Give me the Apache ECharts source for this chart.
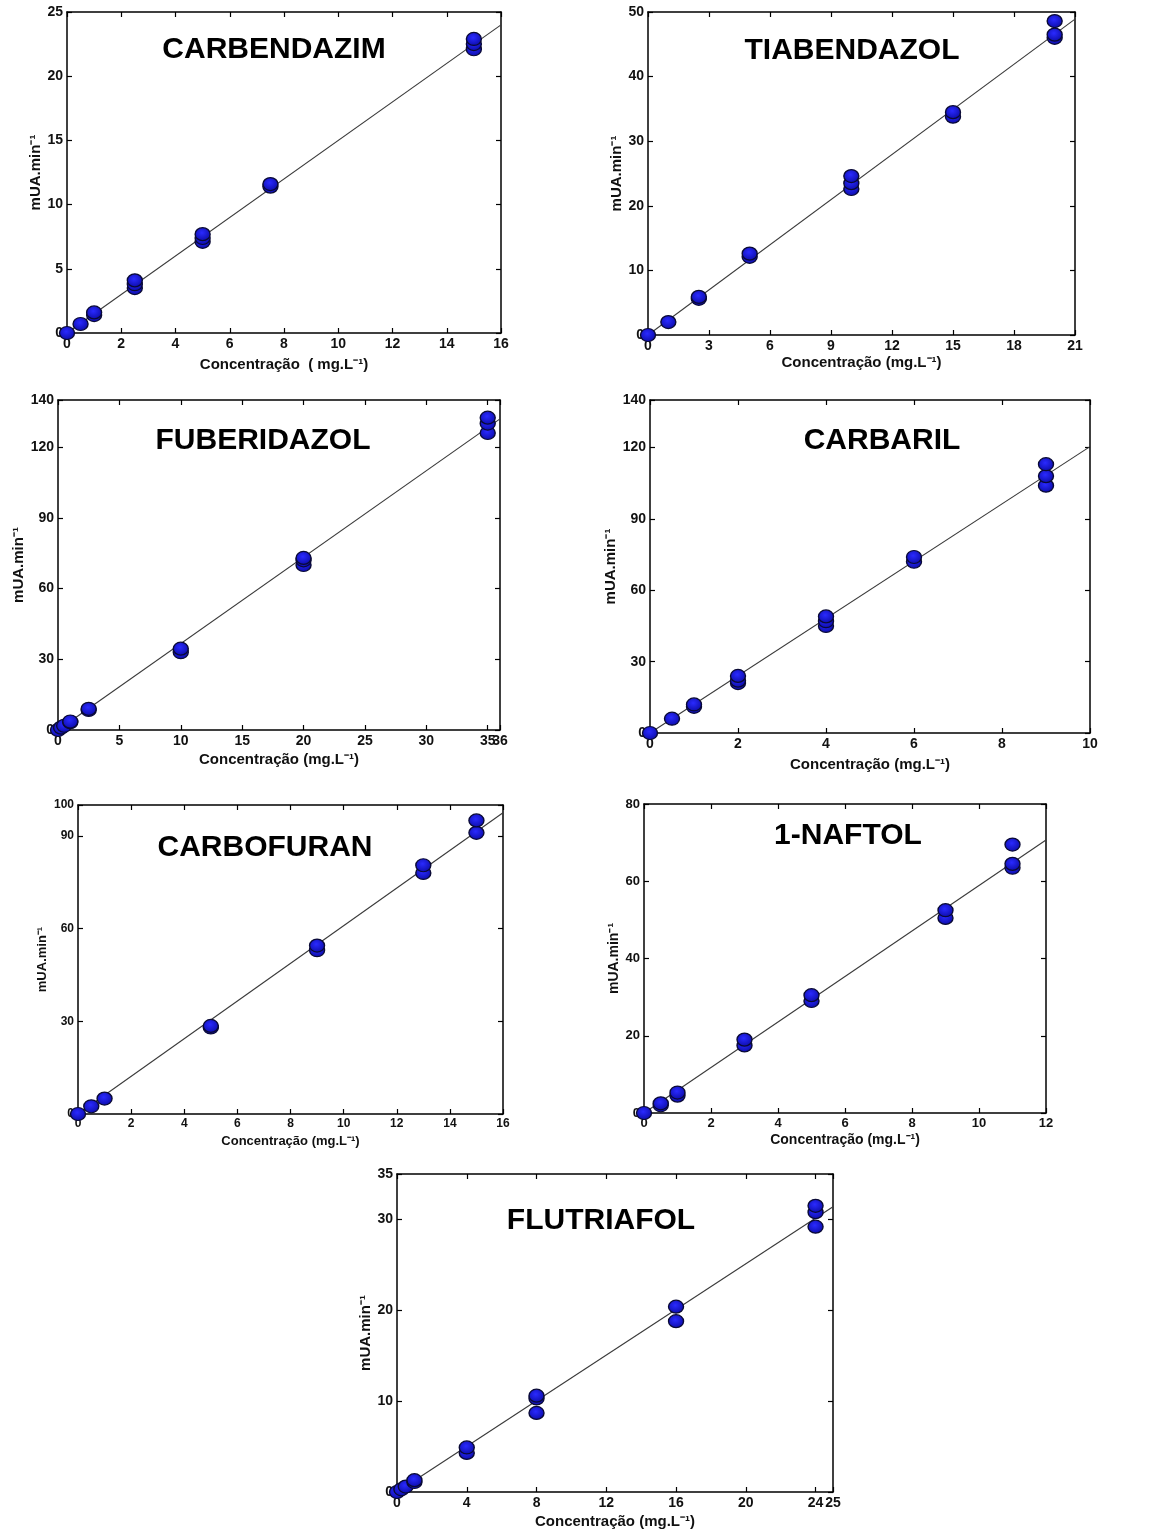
<!DOCTYPE html>
<html>
<head>
<meta charset="utf-8">
<script src="https://cdn.jsdelivr.net/npm/echarts@6/dist/echarts.min.js"></script>
<style>
  html, body { margin: 0; padding: 0; background: #fff; }
  #chart { width: 1151px; height: 1531px; }
</style>
</head>
<body>
<div id="chart"></div>
<script>
// concentração (mg/L) e área (mUA.min)
const carbendazimX = [0, 0.5, 1, 1, 2.5, 2.5, 2.5, 5, 5, 5, 7.5, 7.5, 15, 15, 15]
const carbendazimY = [0, 0.7, 1.4, 1.6, 3.5, 3.8, 4.1, 7.1, 7.4, 7.7, 11.4, 11.6, 22.1, 22.5, 22.9]
const carbendazimFit = [[0, 0], [16, 24]]

const tiabendazolX = [0, 1, 2.5, 2.5, 5, 5, 10, 10, 10, 15, 15, 20, 20, 20]
const tiabendazolY = [0, 2.0, 5.6, 5.9, 12.1, 12.6, 22.6, 23.5, 24.6, 33.8, 34.5, 46.0, 46.5, 48.6]
const tiabendazolFit = [[0, 0], [21, 48.9]]

const fuberidazolX = [0, 0.25, 0.5, 1, 1, 2.5, 2.5, 10, 10, 20, 20, 20, 35, 35, 35]
const fuberidazolY = [0, 1, 1.8, 3.3, 3.6, 8.5, 9, 33, 34.5, 70, 72, 73, 126, 130, 132.5]
const fuberidazolFit = [[0, 0], [36, 132]]

const carbarilX = [0, 0.5, 1, 1, 2, 2, 2, 4, 4, 4, 6, 6, 9, 9, 9]
const carbarilY = [0, 6, 11, 12, 21, 22, 24, 45, 47, 49, 72, 74, 104, 108, 113]
const carbarilFit = [[0, 0], [10, 120.4]]

const carbofuranX = [0, 0.5, 1, 5, 5, 9, 9, 13, 13, 15, 15]
const carbofuranY = [0, 2.5, 5, 28, 28.5, 53, 54.5, 78, 80.5, 91, 95]
const carbofuranFit = [[0, 0], [16, 97.5]]

const naftolX = [0, 0.5, 0.5, 1, 1, 3, 3, 5, 5, 9, 9, 11, 11, 11]
const naftolY = [0, 2.0, 2.5, 4.5, 5.3, 17.5, 19, 29, 30.5, 50.5, 52.5, 63.5, 64.5, 69.5]
const naftolFit = [[0, 0], [12, 70.7]]

const flutriafolX = [0, 0.25, 0.5, 1, 1, 4, 4, 8, 8, 8, 16, 16, 24, 24, 24]
const flutriafolY = [0, 0.3, 0.6, 1.1, 1.3, 4.3, 4.9, 8.7, 10.3, 10.6, 18.8, 20.4, 29.2, 30.8, 31.5]
const flutriafolFit = [[0, 0], [25, 31.4]]

const panels = [
  { name: 'CARBENDAZIM', xs: carbendazimX, ys: carbendazimY, fit: carbendazimFit,
    xMax: 16, xStep: 2, yMax: 25, yStep: 5, xName: 'Concentração  ( mg.L⁻¹)',
    grid: { left: 67, top: 12, width: 434, height: 321 }, title: [274, 49],
    font: 14, nameFont: 15, xGap: 24, yGap: 23 },
  { name: 'TIABENDAZOL', xs: tiabendazolX, ys: tiabendazolY, fit: tiabendazolFit,
    xMax: 21, xStep: 3, yMax: 50, yStep: 10, xName: 'Concentração (mg.L⁻¹)',
    grid: { left: 648, top: 12, width: 427, height: 323 }, title: [852, 50],
    font: 14, nameFont: 15, xGap: 20, yGap: 24 },
  { name: 'FUBERIDAZOL', xs: fuberidazolX, ys: fuberidazolY, fit: fuberidazolFit,
    xMax: 36, xStep: 5, yMax: 140, yStep: 30, xName: 'Concentração (mg.L⁻¹)',
    grid: { left: 58, top: 400, width: 442, height: 330 }, title: [263, 440],
    font: 14, nameFont: 15, xGap: 22, yGap: 29, crowdedMax: true },
  { name: 'CARBARIL', xs: carbarilX, ys: carbarilY, fit: carbarilFit,
    xMax: 10, xStep: 2, yMax: 140, yStep: 30, xName: 'Concentração (mg.L⁻¹)',
    grid: { left: 650, top: 400, width: 440, height: 333 }, title: [882, 440],
    font: 14, nameFont: 15, xGap: 24, yGap: 30 },
  { name: 'CARBOFURAN', xs: carbofuranX, ys: carbofuranY, fit: carbofuranFit,
    xMax: 16, xStep: 2, yMax: 100, yStep: 30, xName: 'Concentração (mg.L⁻¹)',
    grid: { left: 78, top: 805, width: 425, height: 309 }, title: [265, 847],
    font: 12, nameFont: 13, xGap: 21, yGap: 29 },
  { name: '1-NAFTOL', xs: naftolX, ys: naftolY, fit: naftolFit,
    xMax: 12, xStep: 2, yMax: 80, yStep: 20, xName: 'Concentração (mg.L⁻¹)',
    grid: { left: 644, top: 804, width: 402, height: 309 }, title: [848, 835],
    font: 13, nameFont: 14, xGap: 20, yGap: 16 },
  { name: 'FLUTRIAFOL', xs: flutriafolX, ys: flutriafolY, fit: flutriafolFit,
    xMax: 25, xStep: 4, yMax: 35, yStep: 10, xName: 'Concentração (mg.L⁻¹)',
    grid: { left: 397, top: 1174, width: 436, height: 318 }, title: [601, 1220],
    font: 14, nameFont: 15, xGap: 22, yGap: 23 }
]

const fontFamily = 'Liberation Sans, Arial, sans-serif'
const axisLine = { show: true, onZero: false, lineStyle: { color: '#000', width: 1.5 } }
const tick = { show: true, inside: true, length: 5, lineStyle: { color: '#000', width: 1.2 } }
const markerFill = {
  type: 'radial', x: 0.45, y: 0.4, r: 0.6,
  colorStops: [{ offset: 0, color: '#2a2aff' }, { offset: 1, color: '#0c0ca8' }]
}

const grids = []
const xAxes = []
const yAxes = []
const series = []
const titles = []

panels.forEach((p, i) => {
  grids.push(p.grid)
  titles.push({
    text: p.name,
    left: p.title[0],
    top: p.title[1] - 14,
    padding: 0,
    textAlign: 'center',
    textStyle: { fontFamily, fontWeight: 'bold', fontSize: 30, color: '#000' }
  })
  const labelStyle = { fontFamily, fontWeight: 'bold', fontSize: p.font, color: '#111' }
  const nameStyle = { fontFamily, fontWeight: 'bold', fontSize: p.nameFont, color: '#111' }
  const xIndex = xAxes.length
  // eixo inferior e superior
  xAxes.push({
    gridIndex: i, type: 'value', min: 0, max: p.xMax, interval: p.xStep,
    splitLine: { show: false }, axisLine, axisTick: tick,
    axisLabel: { ...labelStyle, margin: 4, showMaxLabel: p.crowdedMax ? false : null },
    name: p.xName, nameLocation: 'middle', nameGap: p.xGap, nameTextStyle: nameStyle
  })
  xAxes.push({
    gridIndex: i, type: 'value', position: 'top', min: 0, max: p.xMax, interval: p.xStep,
    splitLine: { show: false }, axisLine, axisTick: tick, axisLabel: { show: false }
  })
  if (p.crowdedMax) {
    // rótulo do máximo colado ao anterior (ex.: "35" e "36")
    xAxes.push({
      gridIndex: i, type: 'value', position: 'bottom', min: 0, max: p.xMax, interval: p.xMax,
      splitLine: { show: false }, axisLine: { show: false }, axisTick: tick,
      axisLabel: { ...labelStyle, margin: 4, showMinLabel: false, showMaxLabel: true }
    })
  }
  const yIndex = yAxes.length
  // eixo esquerdo e direito
  yAxes.push({
    gridIndex: i, type: 'value', min: 0, max: p.yMax, interval: p.yStep,
    splitLine: { show: false }, axisLine, axisTick: tick,
    axisLabel: { ...labelStyle, margin: 4 },
    name: 'mUA.min⁻¹', nameLocation: 'middle', nameGap: p.yGap, nameTextStyle: nameStyle
  })
  yAxes.push({
    gridIndex: i, type: 'value', position: 'right', min: 0, max: p.yMax, interval: p.yStep,
    splitLine: { show: false }, axisLine, axisTick: tick, axisLabel: { show: false }
  })
  series.push({
    type: 'line', xAxisIndex: xIndex, yAxisIndex: yIndex, data: p.fit,
    symbol: 'none', lineStyle: { color: '#3a3a3a', width: 1.1 }, z: 2, silent: true
  })
  series.push({
    type: 'scatter', xAxisIndex: xIndex, yAxisIndex: yIndex,
    data: p.xs.map((x, k) => [x, p.ys[k]]),
    symbolSize: [15, 13],
    itemStyle: { color: markerFill, borderColor: '#0a0a35', borderWidth: 1.3, opacity: 1 },
    z: 3
  })
})

const chart = echarts.init(document.getElementById('chart'))
chart.setOption({
  backgroundColor: '#fff',
  animation: false,
  title: titles,
  grid: grids,
  xAxis: xAxes,
  yAxis: yAxes,
  series
})
</script>
</body>
</html>
